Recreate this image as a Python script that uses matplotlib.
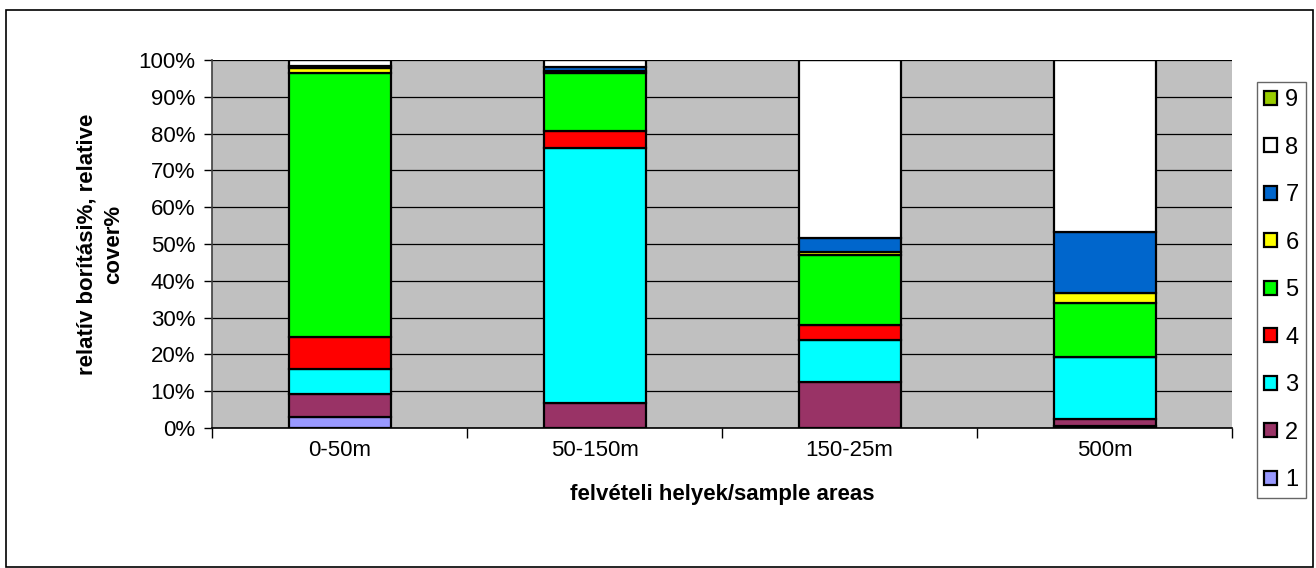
import numpy as np
import matplotlib.pyplot as plt
from matplotlib.patches import Rectangle, Patch

plt.rcParams['font.family'] = ['Liberation Sans', 'DejaVu Sans']

# Sample areas and relative cover (%) of groups 1..9
areas = ['0-50m', '50-150m', '150-25m', '500m']
groups = ['1', '2', '3', '4', '5', '6', '7', '8', '9']
g1 = [3.0, 0.0, 0.0, 0.5]
g2 = [6.2, 6.8, 12.6, 2.0]
g3 = [6.8, 69.2, 11.3, 16.7]
g4 = [8.7, 4.7, 4.1, 0.0]
g5 = [71.8, 15.9, 19.0, 14.8]
g6 = [1.2, 0.3, 0.7, 2.7]
g7 = [0.8, 1.1, 3.8, 16.5]
g8 = [1.5, 2.0, 48.5, 46.8]
g9 = [0.0, 0.0, 0.0, 0.0]
colors = ['#9999FF', '#993366', '#00FFFF', '#FF0000', '#00FF00',
          '#FFFF00', '#0066CC', '#FFFFFF', '#99CC00']

series = [g1, g2, g3, g4, g5, g6, g7, g8, g9]

fig = plt.figure(figsize=(13.16, 5.68), dpi=100)
ax = fig.add_axes([212 / 1316, 1 - 428 / 568, 1020 / 1316, 368 / 568])
ax.set_facecolor('#C0C0C0')

x = np.arange(len(areas))
bottom = np.zeros(len(areas))
for vals, col in zip(series, colors):
    vals = np.array(vals)
    ax.bar(x, vals, 0.4, bottom=bottom, color=col, edgecolor='black',
           linewidth=1.6, zorder=3)
    bottom += vals

ax.set_xlim(-0.5, len(areas) - 0.5)
ax.set_ylim(0, 100)
ax.set_yticks(np.arange(0, 101, 10))
ax.set_yticklabels([f'{v}%' for v in range(0, 101, 10)])
ax.yaxis.grid(True, color='black', linewidth=0.9, zorder=0)
ax.set_axisbelow(True)

ax.set_xticks(x)
ax.set_xticklabels(areas)
ax.set_xticks(np.arange(-0.5, len(areas)), minor=True)
ax.tick_params(axis='x', which='major', length=0, pad=9, labelsize=16)
ax.tick_params(axis='x', which='minor', length=7, width=1, direction='out')
ax.tick_params(axis='y', length=6, width=1, labelsize=16, pad=6)

for s in ['top', 'right']:
    ax.spines[s].set_visible(False)
ax.spines['left'].set_color('#404040')
ax.spines['left'].set_linewidth(1.2)
ax.spines['bottom'].set_linewidth(1.2)

ax.set_xlabel('felvételi helyek/sample areas', fontsize=16, fontweight='bold',
              labelpad=16)
ax.set_ylabel('relatív borítási%, relative\ncover%', fontsize=16,
              fontweight='bold', labelpad=10, linespacing=1.4)

handles = [Patch(facecolor=c, edgecolor='black', linewidth=1.6)
           for c in colors][::-1]
leg = fig.legend(handles, groups[::-1], loc='upper left',
                 bbox_to_anchor=(1257 / 1316, 1 - 82 / 568), fontsize=17,
                 frameon=True, fancybox=False, edgecolor='#404040',
                 handlelength=0.55, handleheight=0.55, handletextpad=0.35,
                 labelspacing=1.08, borderpad=0.3, borderaxespad=0)
leg.get_frame().set_linewidth(1)

fig.patches.append(Rectangle((6 / 1316, 1 - 567 / 568), 1307 / 1316, 557 / 568,
                             transform=fig.transFigure, fill=False,
                             edgecolor='black', linewidth=1.2))

fig.savefig('out.png', dpi=100)
